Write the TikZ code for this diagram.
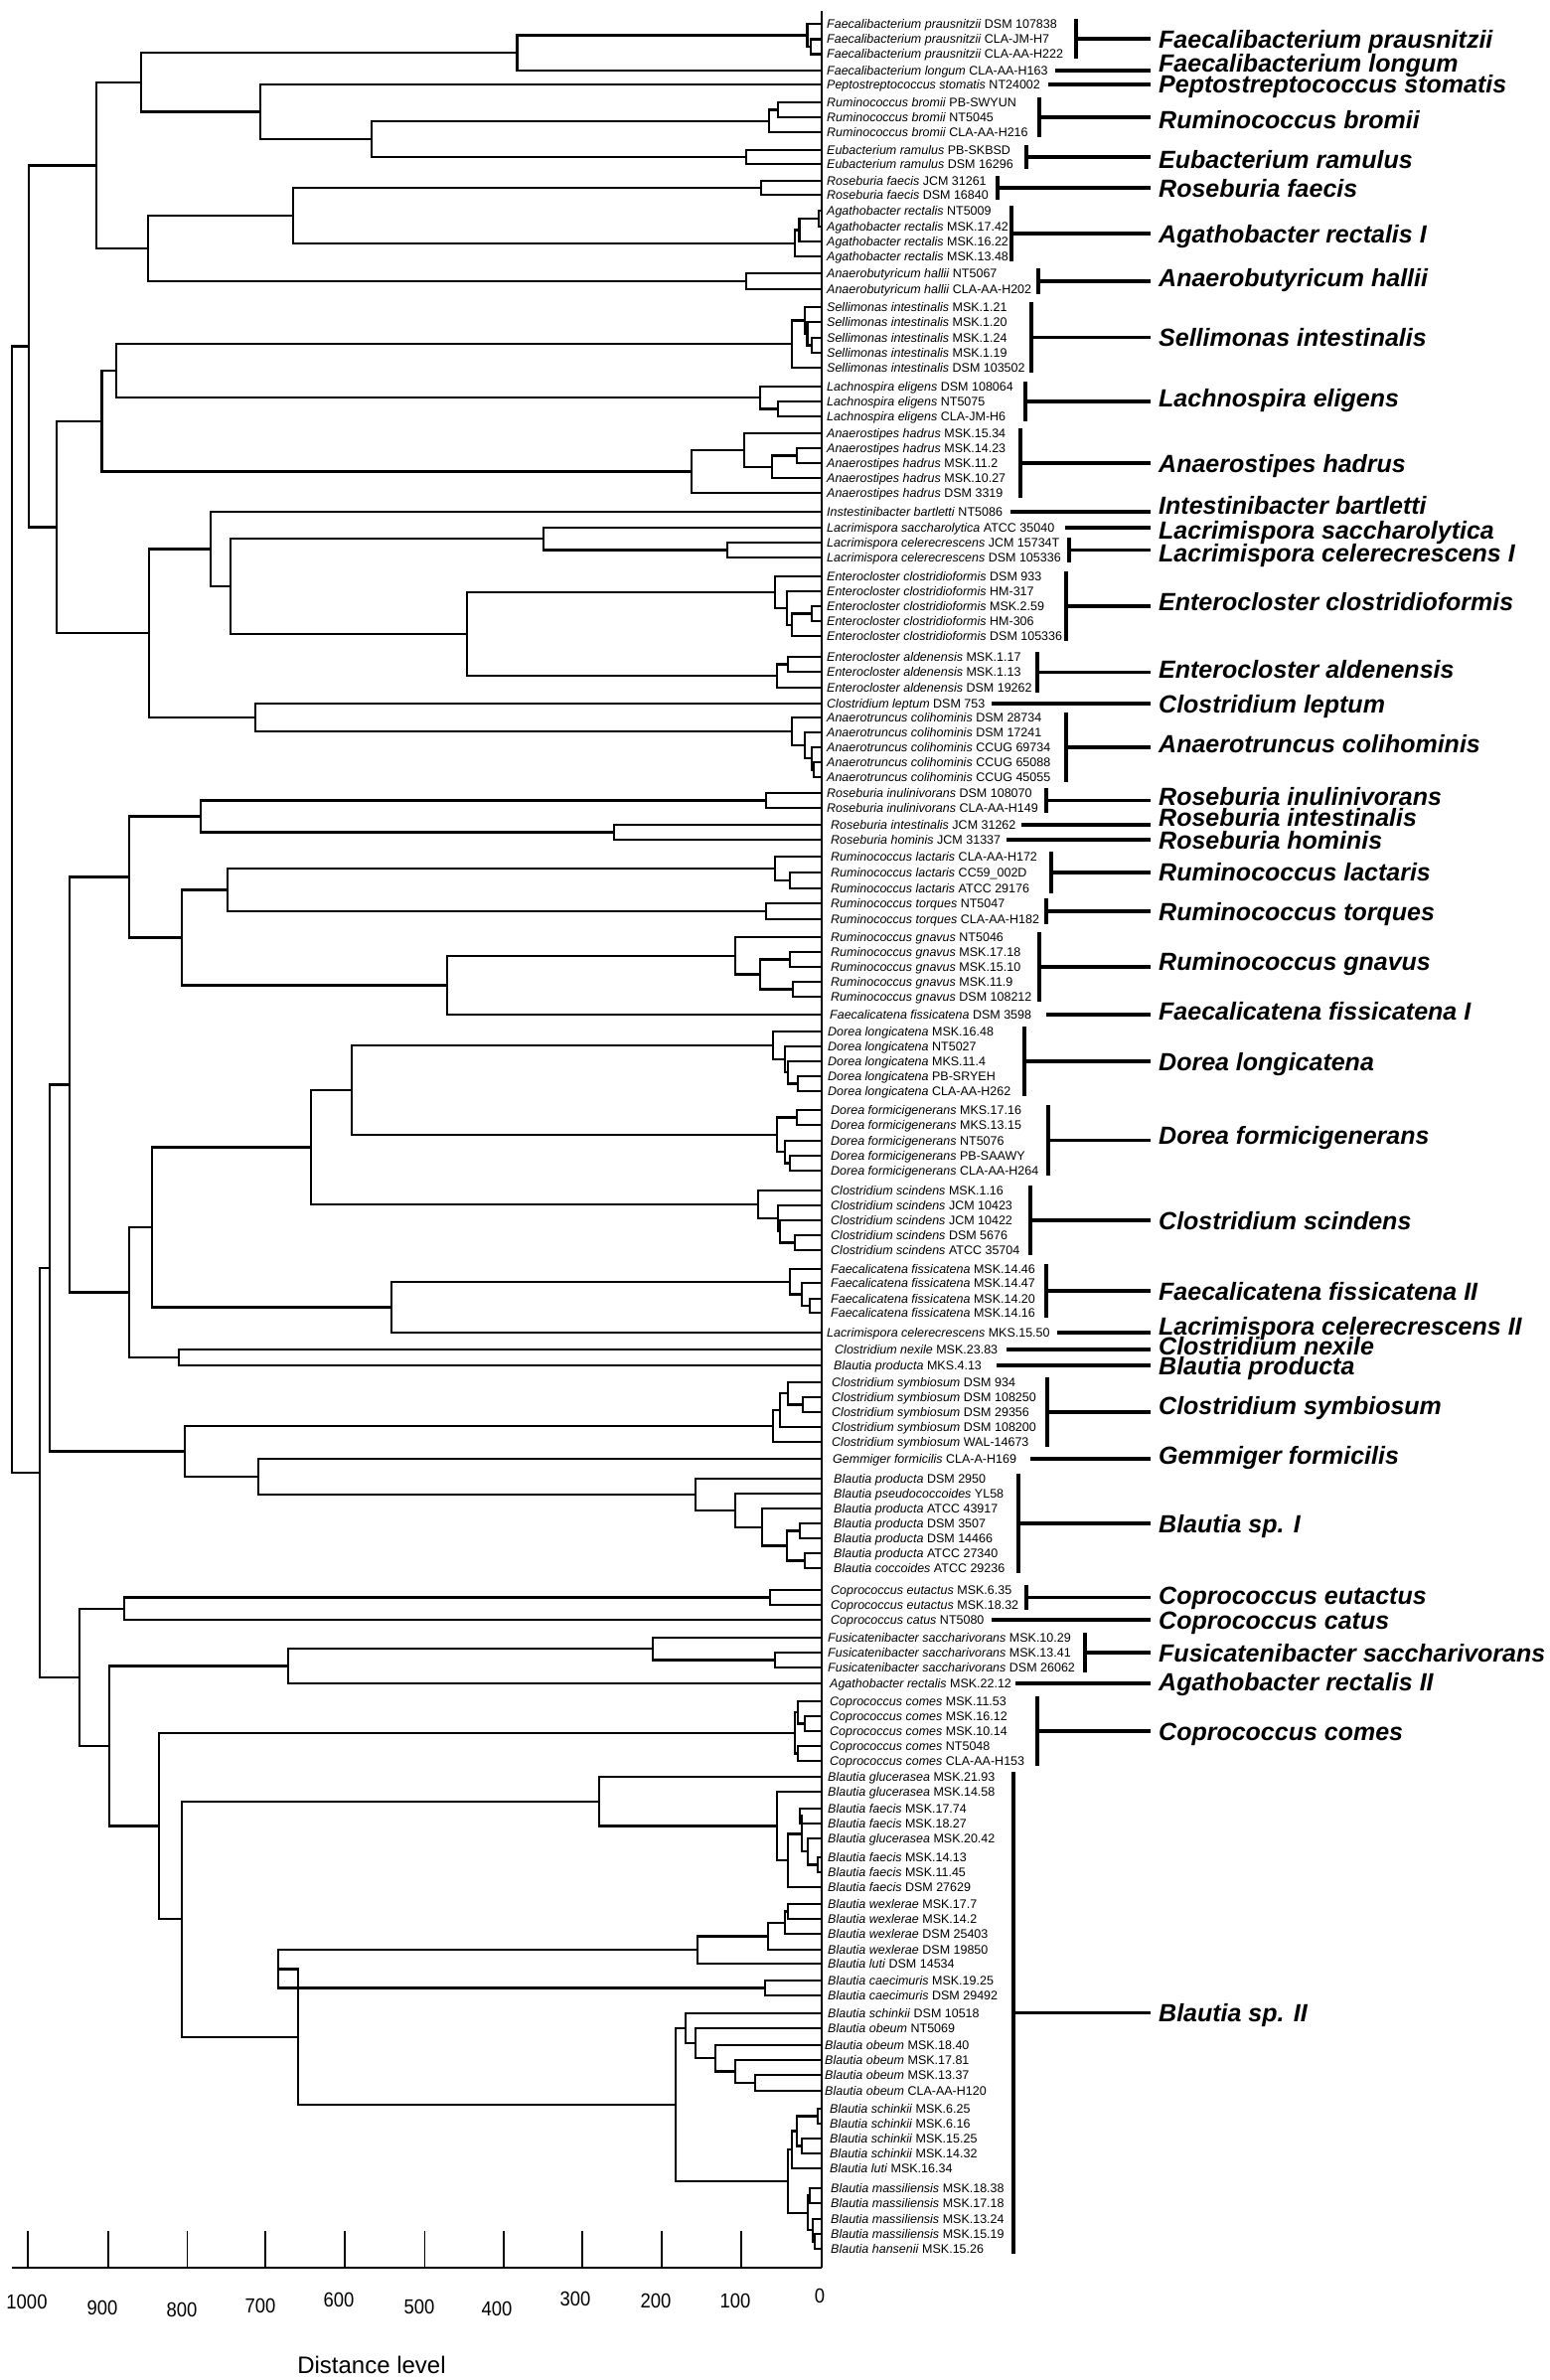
\documentclass[tikz,border=0pt]{standalone}
\usepackage{fontspec}
\setmainfont{Liberation Sans}
\newfontfamily\narrowsans[FakeStretch=0.9]{Liberation Sans}
\usetikzlibrary{calc}
\tikzset{
  tree/.style={line width=2.3pt},
  brk/.style={line width=3.5pt},
  leaf/.style={anchor=base west, inner sep=0pt, font=\fontsize{12.5}{14}\selectfont},
  glabel/.style={anchor=base west, inner sep=0pt, font=\fontsize{25}{28}\selectfont\bfseries\itshape},
  ticklab/.style={inner sep=0pt, font=\narrowsans\fontsize{20.5}{24}\selectfont},
  axisline/.style={line width=2.2pt},
  tickline/.style={line width=1.6pt},
  zeroline/.style={line width=1.3pt}
}
\def\lx{832}
% leaf: index, y, italic name, strain
\newcommand\lf[4]{\coordinate (L#1) at (827,#2);
  \node[leaf] (T#1) at (\lx,#2+4.3) {\textit{#3} #4};}
% join: name, x, child1, child2
\newcommand\jn[4]{\path let \p1=(#3), \p2=(#4) in coordinate (#1) at ({#2pt},{0.5*\y1+0.5*\y2});
  \draw[tree] (#3) -| (#1) |- (#4);}
% bracket group: name, first, last, bar x, label dy, text
\newcommand\grp[6]{\path let \p1=(L#2), \p2=(L#3) in
   coordinate (#1a) at ({#4pt},{\y1+5pt}) coordinate (#1b) at ({#4pt},{\y2-5pt})
   coordinate (#1m) at ({#4pt},{0.5*\y1+0.5*\y2}) coordinate (#1e) at (1158pt,{0.5*\y1+0.5*\y2})
   node[glabel] (#1) at (1166pt,{0.5*\y1+0.5*\y2-9pt-(#5pt)}) {#6};
  \draw[brk] (#1a) -- (#1b); \draw[brk] (#1m) -- (#1e);}
% single group: name, leaf, start x, label dy, text
\newcommand\sgl[5]{\path let \p1=(L#2) in
   coordinate (#1s) at ({#3pt},{\y1}) coordinate (#1e) at (1158pt,{\y1})
   node[glabel] (#1) at (1166pt,{\y1-9pt-(#4pt)}) {#5};
  \draw[brk] (#1s) -- (#1e);}
\begin{document}
\begin{tikzpicture}[x=1pt,y=-1pt]
\fill[white] (0,0) rectangle (1559,2395);
\useasboundingbox (0,0) rectangle (1559,2395);
% ---------------- leaves
\lf{1}{24}{Faecalibacterium prausnitzii}{DSM 107838}
\lf{2}{39.5}{Faecalibacterium prausnitzii}{CLA-JM-H7}
\lf{3}{54.5}{Faecalibacterium prausnitzii}{CLA-AA-H222}
\lf{4}{71}{Faecalibacterium longum}{CLA-AA-H163}
\lf{5}{85}{Peptostreptococcus stomatis}{NT24002}
\lf{6}{103}{Ruminococcus bromii}{PB-SWYUN}
\lf{7}{118}{Ruminococcus bromii}{NT5045}
\lf{8}{133}{Ruminococcus bromii}{CLA-AA-H216}
\lf{9}{151}{Eubacterium ramulus}{PB-SKBSD}
\lf{10}{165}{Eubacterium ramulus}{DSM 16296}
\lf{11}{182}{Roseburia faecis}{JCM 31261}
\lf{12}{196}{Roseburia faecis}{DSM 16840}
\lf{13}{212}{Agathobacter rectalis}{NT5009}
\lf{14}{228}{Agathobacter rectalis}{MSK.17.42}
\lf{15}{243}{Agathobacter rectalis}{MSK.16.22}
\lf{16}{258}{Agathobacter rectalis}{MSK.13.48}
\lf{17}{275}{Anaerobutyricum hallii}{NT5067}
\lf{18}{291}{Anaerobutyricum hallii}{CLA-AA-H202}
\lf{19}{309}{Sellimonas intestinalis}{MSK.1.21}
\lf{20}{324}{Sellimonas intestinalis}{MSK.1.20}
\lf{21}{340}{Sellimonas intestinalis}{MSK.1.24}
\lf{22}{355}{Sellimonas intestinalis}{MSK.1.19}
\lf{23}{370}{Sellimonas intestinalis}{DSM 103502}
\lf{24}{389}{Lachnospira eligens}{DSM 108064}
\lf{25}{404}{Lachnospira eligens}{NT5075}
\lf{26}{419}{Lachnospira eligens}{CLA-JM-H6}
\lf{27}{436}{Anaerostipes hadrus}{MSK.15.34}
\lf{28}{451}{Anaerostipes hadrus}{MSK.14.23}
\lf{29}{466}{Anaerostipes hadrus}{MSK.11.2}
\lf{30}{481}{Anaerostipes hadrus}{MSK.10.27}
\lf{31}{496}{Anaerostipes hadrus}{DSM 3319}
\lf{32}{515}{Instestinibacter bartletti}{NT5086}
\lf{33}{531}{Lacrimispora saccharolytica}{ATCC 35040}
\lf{34}{546}{Lacrimispora celerecrescens}{JCM 15734T}
\lf{35}{561}{Lacrimispora celerecrescens}{DSM 105336}
\lf{36}{580}{Enterocloster clostridioformis}{DSM 933}
\lf{37}{595}{Enterocloster clostridioformis}{HM-317}
\lf{38}{610}{Enterocloster clostridioformis}{MSK.2.59}
\lf{39}{625}{Enterocloster clostridioformis}{HM-306}
\lf{40}{640}{Enterocloster clostridioformis}{DSM 105336}
\lf{41}{661}{Enterocloster aldenensis}{MSK.1.17}
\lf{42}{676}{Enterocloster aldenensis}{MSK.1.13}
\lf{43}{692}{Enterocloster aldenensis}{DSM 19262}
\lf{44}{708}{Clostridium leptum}{DSM 753}
\lf{45}{722}{Anaerotruncus colihominis}{DSM 28734}
\lf{46}{737}{Anaerotruncus colihominis}{DSM 17241}
\lf{47}{752}{Anaerotruncus colihominis}{CCUG 69734}
\lf{48}{767}{Anaerotruncus colihominis}{CCUG 65088}
\lf{49}{782}{Anaerotruncus colihominis}{CCUG 45055}
\lf{50}{798}{Roseburia inulinivorans}{DSM 108070}
\lf{51}{813}{Roseburia inulinivorans}{CLA-AA-H149}
\def\lx{836}
\lf{52}{830}{Roseburia intestinalis}{JCM 31262}
\lf{53}{845}{Roseburia hominis}{JCM 31337}
\lf{54}{862}{Ruminococcus lactaris}{CLA-AA-H172}
\lf{55}{878}{Ruminococcus lactaris}{CC59\_002D}
\lf{56}{894}{Ruminococcus lactaris}{ATCC 29176}
\lf{57}{909}{Ruminococcus torques}{NT5047}
\lf{58}{925}{Ruminococcus torques}{CLA-AA-H182}
\lf{59}{943}{Ruminococcus gnavus}{NT5046}
\lf{60}{958}{Ruminococcus gnavus}{MSK.17.18}
\lf{61}{973}{Ruminococcus gnavus}{MSK.15.10}
\lf{62}{988}{Ruminococcus gnavus}{MSK.11.9}
\lf{63}{1003}{Ruminococcus gnavus}{DSM 108212}
\def\lx{835}
\lf{64}{1021}{Faecalicatena fissicatena}{DSM 3598}
\def\lx{833}
\lf{65}{1038}{Dorea longicatena}{MSK.16.48}
\lf{66}{1053}{Dorea longicatena}{NT5027}
\lf{67}{1068}{Dorea longicatena}{MKS.11.4}
\lf{68}{1083}{Dorea longicatena}{PB-SRYEH}
\lf{69}{1098}{Dorea longicatena}{CLA-AA-H262}
\def\lx{836}
\lf{70}{1117}{Dorea formicigenerans}{MKS.17.16}
\lf{71}{1132}{Dorea formicigenerans}{MKS.13.15}
\lf{72}{1148}{Dorea formicigenerans}{NT5076}
\lf{73}{1163}{Dorea formicigenerans}{PB-SAAWY}
\lf{74}{1178}{Dorea formicigenerans}{CLA-AA-H264}
\lf{75}{1198}{Clostridium scindens}{MSK.1.16}
\lf{76}{1213}{Clostridium scindens}{JCM 10423}
\lf{77}{1228}{Clostridium scindens}{JCM 10422}
\lf{78}{1243}{Clostridium scindens}{DSM 5676}
\lf{79}{1258}{Clostridium scindens}{ATCC 35704}
\lf{80}{1277}{Faecalicatena fissicatena}{MSK.14.46}
\lf{81}{1291}{Faecalicatena fissicatena}{MSK.14.47}
\lf{82}{1307}{Faecalicatena fissicatena}{MSK.14.20}
\lf{83}{1321}{Faecalicatena fissicatena}{MSK.14.16}
\def\lx{832}
\lf{84}{1341}{Lacrimispora celerecrescens}{MKS.15.50}
\def\lx{840}
\lf{85}{1358}{Clostridium nexile}{MSK.23.83}
\def\lx{839}
\lf{86}{1374}{Blautia producta}{MKS.4.13}
\def\lx{837}
\lf{87}{1391}{Clostridium symbiosum}{DSM 934}
\lf{88}{1406}{Clostridium symbiosum}{DSM 108250}
\lf{89}{1421}{Clostridium symbiosum}{DSM 29356}
\lf{90}{1436}{Clostridium symbiosum}{DSM 108200}
\lf{91}{1451}{Clostridium symbiosum}{WAL-14673}
\def\lx{838}
\lf{92}{1468}{Gemmiger formicilis}{CLA-A-H169}
\def\lx{839}
\lf{93}{1488}{Blautia producta}{DSM 2950}
\lf{94}{1503}{Blautia pseudococcoides}{YL58}
\lf{95}{1518}{Blautia producta}{ATCC 43917}
\lf{96}{1533}{Blautia producta}{DSM 3507}
\lf{97}{1548}{Blautia producta}{DSM 14466}
\lf{98}{1563}{Blautia producta}{ATCC 27340}
\lf{99}{1578}{Blautia coccoides}{ATCC 29236}
\def\lx{836}
\lf{100}{1600}{Coprococcus eutactus}{MSK.6.35}
\lf{101}{1615}{Coprococcus eutactus}{MSK.18.32}
\lf{102}{1630}{Coprococcus catus}{NT5080}
\def\lx{833}
\lf{103}{1648}{Fusicatenibacter saccharivorans}{MSK.10.29}
\lf{104}{1663}{Fusicatenibacter saccharivorans}{MSK.13.41}
\lf{105}{1678}{Fusicatenibacter saccharivorans}{DSM 26062}
\def\lx{835}
\lf{106}{1694}{Agathobacter rectalis}{MSK.22.12}
\lf{107}{1712}{Coprococcus comes}{MSK.11.53}
\lf{108}{1727}{Coprococcus comes}{MSK.16.12}
\lf{109}{1742}{Coprococcus comes}{MSK.10.14}
\lf{110}{1757}{Coprococcus comes}{NT5048}
\lf{111}{1772}{Coprococcus comes}{CLA-AA-H153}
\def\lx{833}
\lf{112}{1788}{Blautia glucerasea}{MSK.21.93}
\lf{113}{1803}{Blautia glucerasea}{MSK.14.58}
\lf{114}{1820}{Blautia faecis}{MSK.17.74}
\lf{115}{1835}{Blautia faecis}{MSK.18.27}
\lf{116}{1850}{Blautia glucerasea}{MSK.20.42}
\lf{117}{1869}{Blautia faecis}{MSK.14.13}
\lf{118}{1884}{Blautia faecis}{MSK.11.45}
\lf{119}{1899}{Blautia faecis}{DSM 27629}
\lf{120}{1916}{Blautia wexlerae}{MSK.17.7}
\lf{121}{1931}{Blautia wexlerae}{MSK.14.2}
\lf{122}{1946}{Blautia wexlerae}{DSM 25403}
\lf{123}{1962}{Blautia wexlerae}{DSM 19850}
\lf{124}{1976}{Blautia luti}{DSM 14534}
\lf{125}{1993}{Blautia caecimuris}{MSK.19.25}
\lf{126}{2008}{Blautia caecimuris}{DSM 29492}
\lf{127}{2026}{Blautia schinkii}{DSM 10518}
\lf{128}{2041}{Blautia obeum}{NT5069}
\def\lx{830}
\lf{129}{2058}{Blautia obeum}{MSK.18.40}
\lf{130}{2073}{Blautia obeum}{MSK.17.81}
\lf{131}{2088}{Blautia obeum}{MSK.13.37}
\lf{132}{2104}{Blautia obeum}{CLA-AA-H120}
\def\lx{835}
\lf{133}{2122}{Blautia schinkii}{MSK.6.25}
\lf{134}{2137}{Blautia schinkii}{MSK.6.16}
\lf{135}{2152}{Blautia schinkii}{MSK.15.25}
\lf{136}{2167}{Blautia schinkii}{MSK.14.32}
\lf{137}{2182}{Blautia luti}{MSK.16.34}
\def\lx{836}
\lf{138}{2202}{Blautia massiliensis}{MSK.18.38}
\lf{139}{2217}{Blautia massiliensis}{MSK.17.18}
\lf{140}{2233}{Blautia massiliensis}{MSK.13.24}
\lf{141}{2248}{Blautia massiliensis}{MSK.15.19}
\lf{142}{2263}{Blautia hansenii}{MSK.15.26}
% ---------------- tree
\jn{a1}{816}{L2}{L3}
\jn{a2}{812.5}{L1}{a1}
\jn{a3}{520.5}{a2}{L4}
\jn{a4}{783}{L6}{L7}
\jn{a5}{774}{a4}{L8}
\jn{a6}{751}{L9}{L10}
\jn{a7}{374}{a5}{a6}
\jn{a8}{262}{L5}{a7}
\jn{a9}{142}{a3}{a8}
\jn{a10}{766}{L11}{L12}
\jn{a11}{824}{L13}{L14}
\jn{a12}{804.5}{a11}{L15}
\jn{a13}{800}{a12}{L16}
\jn{a14}{295}{a10}{a13}
\jn{a15}{751}{L17}{L18}
\jn{a16}{149}{a14}{a15}
\jn{a17}{96.7}{a9}{a16}
\jn{b1}{817}{L21}{L22}
\jn{b2}{812.5}{L20}{b1}
\jn{b3}{810}{L19}{b2}
\jn{b4}{797}{b3}{L23}
\jn{b5}{783}{L25}{L26}
\jn{b6}{765}{L24}{b5}
\jn{b7}{117}{b4}{b6}
\jn{b8}{802}{L28}{L29}
\jn{b9}{777}{b8}{L30}
\jn{b10}{749}{L27}{b9}
\jn{b11}{696}{b10}{L31}
\jn{b12}{102.5}{b7}{b11}
\jn{c1}{732}{L34}{L35}
\jn{c2}{547}{L33}{c1}
\jn{c3}{817}{L38}{L39}
\jn{c4}{797}{c3}{L40}
\jn{c5}{792}{L37}{c4}
\jn{c6}{780}{L36}{c5}
\jn{c7}{793}{L41}{L42}
\jn{c8}{782}{c7}{L43}
\jn{c9}{470}{c6}{c8}
\jn{c10}{232}{c2}{c9}
\jn{c11}{212}{L32}{c10}
\jn{c12}{819}{L48}{L49}
\jn{c13}{817}{L47}{c12}
\jn{c14}{810}{L46}{c13}
\jn{c15}{797}{L45}{c14}
\jn{c16}{257}{L44}{c15}
\jn{c17}{150}{c11}{c16}
\jn{c18}{57}{b12}{c17}
\jn{r1}{29}{a17}{c18}
\jn{d1}{771}{L50}{L51}
\jn{d2}{618}{L52}{L53}
\jn{d3}{202}{d1}{d2}
\jn{d4}{795}{L55}{L56}
\jn{d5}{780}{L54}{d4}
\jn{d6}{771}{L57}{L58}
\jn{d7}{229}{d5}{d6}
\jn{d8}{795}{L60}{L61}
\jn{d9}{798}{L62}{L63}
\jn{d10}{765}{d8}{d9}
\jn{d11}{740}{L59}{d10}
\jn{d12}{450}{d11}{L64}
\jn{d13}{183}{d7}{d12}
\jn{d14}{130}{d3}{d13}
\jn{e1}{803}{L68}{L69}
\jn{e2}{793}{L67}{e1}
\jn{e3}{790}{L66}{e2}
\jn{e4}{778}{L65}{e3}
\jn{e5}{802}{L70}{L71}
\jn{e6}{795}{L73}{L74}
\jn{e7}{790}{L72}{e6}
\jn{e8}{782}{e5}{e7}
\jn{e9}{354}{e4}{e8}
\jn{e10}{800}{L78}{L79}
\jn{e11}{785}{L77}{e10}
\jn{e12}{783}{L76}{e11}
\jn{e13}{763}{L75}{e12}
\jn{e14}{313}{e9}{e13}
\jn{e15}{815}{L82}{L83}
\jn{e16}{807}{L81}{e15}
\jn{e17}{795}{L80}{e16}
\jn{e18}{394}{e17}{L84}
\jn{e19}{153}{e14}{e18}
\jn{e20}{180}{L85}{L86}
\jn{e21}{130}{e19}{e20}
\jn{f1}{808}{L88}{L89}
\jn{f2}{793}{L87}{f1}
\jn{f3}{785}{f2}{L90}
\jn{f4}{778}{f3}{L91}
\jn{f5}{805}{L96}{L97}
\jn{f6}{810}{L98}{L99}
\jn{f7}{792}{f5}{f6}
\jn{f8}{767}{L95}{f7}
\jn{f9}{740}{L94}{f8}
\jn{f10}{700}{L93}{f9}
\jn{f11}{260}{L92}{f10}
\jn{f12}{186}{f4}{f11}
\jn{r2}{70}{d14}{e21}
\jn{r3}{50}{r2}{f12}
\jn{g1}{775}{L100}{L101}
\jn{g2}{125}{g1}{L102}
\jn{g3}{780}{L104}{L105}
\jn{g4}{657}{L103}{g3}
\jn{g5}{290}{g4}{L106}
\jn{g6}{810}{L108}{L109}
\jn{g7}{803}{L107}{g6}
\jn{g8}{803}{L110}{L111}
\jn{g9}{800}{g7}{g8}
\jn{h1}{805}{L114}{L115}
\jn{h2}{823}{L117}{L118}
\jn{h3}{813}{L116}{h2}
\jn{h4}{807}{h1}{h3}
\jn{h5}{793}{h4}{L119}
\jn{h6}{782}{L113}{h5}
\jn{h7}{603}{L112}{h6}
\jn{h8}{793}{L120}{L121}
\jn{h9}{790}{h8}{L122}
\jn{h10}{773}{h9}{L123}
\jn{h11}{702}{h10}{L124}
\jn{h12}{770}{L125}{L126}
\jn{h13}{280}{h11}{h12}
\jn{h14}{760}{L131}{L132}
\jn{h15}{740}{L130}{h14}
\jn{h16}{720}{L129}{h15}
\jn{h17}{700}{L128}{h16}
\jn{h18}{690}{L127}{h17}
\jn{h19}{823}{L133}{L134}
\jn{h20}{807}{L135}{L136}
\jn{h21}{802}{h19}{h20}
\jn{h22}{797}{h21}{L137}
\jn{h23}{815}{L138}{L139}
\jn{h24}{820}{L141}{L142}
\jn{h25}{818}{L140}{h24}
\jn{h26}{813}{h23}{h25}
\jn{h27}{793}{h22}{h26}
\jn{h28}{680}{h18}{h27}
\jn{h29}{300}{h13}{h28}
\jn{h30}{183}{h7}{h29}
\jn{g10}{160}{g9}{h30}
\jn{g11}{110}{g5}{g10}
\jn{g12}{80}{g2}{g11}
\jn{r4}{40}{r3}{g12}
\jn{r5}{12}{r1}{r4}
% ---------------- groups
\grp{G1}{1}{3}{1083}{0}{Faecalibacterium prausnitzii}
\sgl{G2}{4}{1062}{-7}{Faecalibacterium longum}
\sgl{G3}{5}{1055}{0}{Peptostreptococcus stomatis}
\grp{G4}{6}{8}{1046}{3}{Ruminococcus bromii}
\grp{G5}{9}{10}{1033}{2}{Eubacterium ramulus}
\grp{G6}{11}{12}{1004}{0}{Roseburia faecis}
\grp{G7}{13}{16}{1018}{0}{Agathobacter rectalis I}
\grp{G8}{17}{18}{1045}{-4}{Anaerobutyricum hallii}
\grp{G9}{19}{23}{1038}{0}{Sellimonas intestinalis}
\grp{G10}{24}{26}{1032}{-4}{Lachnospira eligens}
\grp{G11}{27}{31}{1027}{0}{Anaerostipes hadrus}
\sgl{G12}{32}{1017}{-7}{Intestinibacter bartletti}
\sgl{G13}{33}{1072}{2}{Lacrimispora saccharolytica}
\grp{G14}{34}{35}{1076}{3}{Lacrimispora celerecrescens I}
\grp{G15}{36}{40}{1073}{-5}{Enterocloster clostridioformis}
\grp{G16}{41}{43}{1044}{-3}{Enterocloster aldenensis}
\sgl{G17}{44}{998}{0}{Clostridium leptum}
\grp{G18}{45}{49}{1073}{-4}{Anaerotruncus colihominis}
\grp{G19}{50}{51}{1053}{-4}{Roseburia inulinivorans}
\sgl{G20}{52}{1028}{-8}{Roseburia intestinalis}
\sgl{G21}{53}{1013}{0}{Roseburia hominis}
\grp{G22}{54}{56}{1058}{-1}{Ruminococcus lactaris}
\grp{G23}{57}{58}{1053}{0}{Ruminococcus torques}
\grp{G24}{59}{63}{1046}{-6}{Ruminococcus gnavus}
\sgl{G25}{64}{1053}{-4}{Faecalicatena fissicatena I}
\grp{G26}{65}{69}{1031}{0}{Dorea longicatena}
\grp{G27}{70}{74}{1055}{-5}{Dorea formicigenerans}
\grp{G28}{75}{79}{1037}{0}{Clostridium scindens}
\grp{G29}{80}{83}{1053}{0}{Faecalicatena fissicatena II}
\sgl{G30}{84}{1064}{-7}{Lacrimispora celerecrescens II}
\sgl{G31}{85}{1013}{-4}{Clostridium nexile}
\sgl{G32}{86}{1003}{0}{Blautia producta}
\grp{G33}{87}{91}{1054}{-7}{Clostridium symbiosum}
\sgl{G34}{92}{1037}{-4}{Gemmiger formicilis}
\grp{G35}{93}{99}{1025}{0}{Blautia sp. I}
\grp{G36}{100}{101}{1033}{-2}{Coprococcus eutactus}
\sgl{G37}{102}{998}{0}{Coprococcus catus}
\grp{G38}{103}{105}{1092}{0}{Fusicatenibacter saccharivorans}
\sgl{G39}{106}{1022}{-2}{Agathobacter rectalis II}
\grp{G40}{107}{111}{1044}{0}{Coprococcus comes}
\grp{G41}{112}{142}{1020}{0}{Blautia sp. II}
% ---------------- axis
\coordinate (ax0) at (827,2282);
\coordinate (axL) at (12,2282);
\coordinate (zt) at (827,11);
\draw[zeroline] (zt) -- (ax0);
\draw[axisline] (axL) -- (ax0);
\foreach \x in {28,109,188.6,267,347,427.6,507,586,666,746}
  \draw[tickline] (\x,2245) -- (\x,2282);
\foreach \v/\x/\y in {1000/27/2316,900/103/2322,800/183/2324,700/262/2320,600/341/2314,500/422/2321,400/500/2323,300/579/2313,200/660/2315,100/740/2315,0/825/2310}
  \node[ticklab] (k\v) at (\x,\y) {\v};
\node[inner sep=0pt, font=\fontsize{24}{28}\selectfont] (dl) at (374,2380) {Distance level};
\end{tikzpicture}
\end{document}
